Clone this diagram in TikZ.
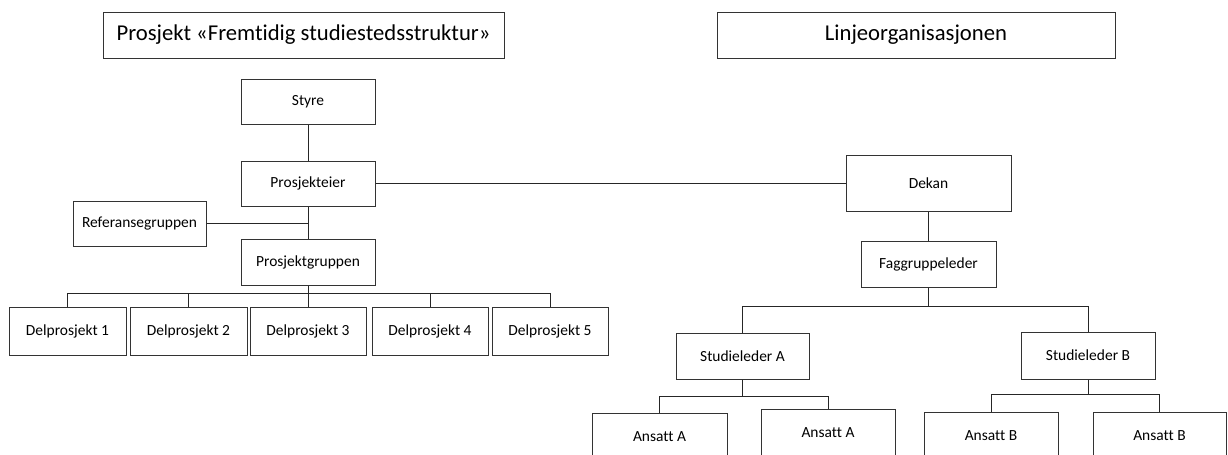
\documentclass[tikz,border=0pt]{standalone}
\usepackage{fontspec}
\setmainfont{Carlito}[Ligatures=NoCommon]
\begin{document}
\begin{tikzpicture}[x=0.75pt,y=-0.75pt,
  box/.style 2 args={draw=black!80, line width=0.75pt, fill=white, inner sep=0pt,
    minimum width=#1*0.75pt, minimum height=#2*0.75pt,
    font=\fontsize{11.6}{13}\selectfont},
  headbox/.style 2 args={box={#1}{#2}, font=\fontsize{17}{20}\selectfont},
  link/.style={draw=black!85, line width=0.75pt}]
\path[use as bounding box, clip] (0,0) rectangle (1228,454);

% headings
\node[headbox={401}{46}] (hproj) at (303.5,35) {Prosjekt «Fremtidig studiestedsstruktur»};
\node[headbox={398}{46}] (hline) at (916,35) {Linjeorganisasjonen};

% project organisation
\node[box={134}{45}] (styre) at (308,101.5) {Styre};
\node[box={134}{45}] (eier) at (308,183.5) {Prosjekteier};
\node[box={133}{45}] (ref) at (139.5,223.5) {Referansegruppen};
\node[box={134}{46}] (pg) at (308,262) {Prosjektgruppen};
\node[box={117}{48}] (d1) at (67.5,331) {Delprosjekt 1};
\node[box={117}{48}] (d2) at (188.5,331) {Delprosjekt 2};
\node[box={116}{48}] (d3) at (308,331) {Delprosjekt 3};
\node[box={116}{48}] (d4) at (430,331) {Delprosjekt 4};
\node[box={116}{48}] (d5) at (550,331) {Delprosjekt 5};

% line organisation
\node[box={165}{56}] (dekan) at (928.5,183.5) {Dekan};
\node[box={135}{46}] (fg) at (928.5,264) {Faggruppeleder};
\node[box={133}{46}] (sa) at (742.5,356) {Studieleder A};
\node[box={134}{47}] (sb) at (1088,355.5) {Studieleder B};
\node[box={135}{48}] (a1) at (659.5,437) {Ansatt A};
\node[box={134}{48}] (a2) at (828,433) {Ansatt A};
\node[box={134}{48}] (b1) at (991,436) {Ansatt B};
\node[box={133}{48}] (b2) at (1159.5,436) {Ansatt B};

% bus junctions
\coordinate (bus1) at (308,293);
\coordinate (bus2) at (928.5,306);
\coordinate (bus3) at (742.5,396);
\coordinate (bus4) at (1088,394);

% connectors
\draw[link] (styre) -- (eier);
\draw[link] (eier) -- (pg);
\draw[link] (ref.east) -- (ref.east -| eier.south);
\draw[link] (eier.east) -- (dekan.west);
\draw[link] (pg.south) -- (bus1);
\foreach \d in {d1,d2,d3,d4,d5} \draw[link] (\d.north) |- (bus1);

\draw[link] (dekan) -- (fg);
\draw[link] (fg.south) -- (bus2);
\draw[link] (sa.north) |- (bus2);
\draw[link] (sb.north) |- (bus2);
\draw[link] (sa.south) -- (bus3);
\draw[link] (a1.north) |- (bus3);
\draw[link] (a2.north) |- (bus3);
\draw[link] (sb.south) -- (bus4);
\draw[link] (b1.north) |- (bus4);
\draw[link] (b2.north) |- (bus4);
\end{tikzpicture}
\end{document}
